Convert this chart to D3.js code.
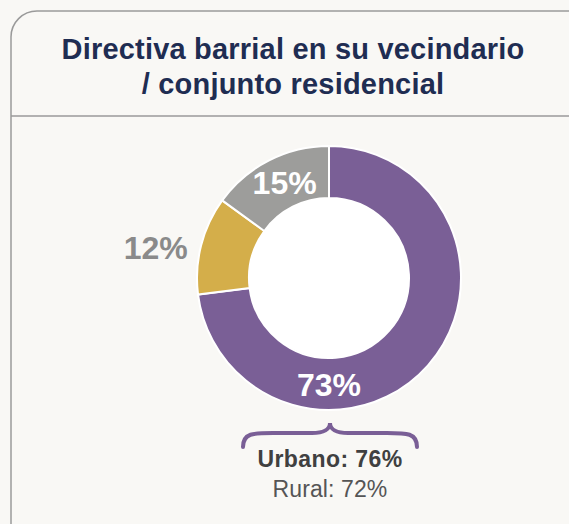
<!DOCTYPE html>
<html>
<head>
<meta charset="utf-8">
<script src="https://cdn.jsdelivr.net/npm/d3@7"></script>
<style>
  html, body { margin: 0; padding: 0; background: #f9f8f5; }
  svg { display: block; }
  text { font-family: "Liberation Sans", Arial, sans-serif; }
</style>
</head>
<body>
<div id="chart"></div>
<script>
"use strict";

// chart data
var titleLines = ["Directiva barrial en su vecindario", "/ conjunto residencial"];
var categories = ["Sí", "No", "No sabe"];
var values = [73, 12, 15];
var colors = ["#7a5f96", "#d4ae4a", "#9d9d9b"];
var breakdownLabels = ["Urbano: 76%", "Rural: 72%"];

var width = 569, height = 524;
var svg = d3.select("#chart").append("svg")
    .attr("width", width)
    .attr("height", height);

// card frame
svg.append("rect")
    .attr("x", 11).attr("y", 11)
    .attr("width", 600).attr("height", 540)
    .attr("rx", 26).attr("ry", 26)
    .attr("fill", "#f9f8f5")
    .attr("stroke", "#9a9a9a")
    .attr("stroke-width", 1.5);

svg.append("line")
    .attr("x1", 11).attr("x2", width)
    .attr("y1", 116).attr("y2", 116)
    .attr("stroke", "#9a9a9a")
    .attr("stroke-width", 1.5);

svg.append("g")
    .selectAll("text")
    .data(titleLines)
    .enter().append("text")
    .attr("x", 293)
    .attr("y", (d, i) => 59 + i * 35)
    .attr("text-anchor", "middle")
    .attr("font-size", 29)
    .attr("font-weight", "bold")
    .attr("letter-spacing", 0.2)
    .attr("fill", "#1f2d52")
    .text(d => d);

// donut
var cx = 329, cy = 278;
var outerR = 132, innerR = 80;

var pie = d3.pie().sort(null).value(d => d);
var arcs = pie(values);
var arc = d3.arc().innerRadius(innerR).outerRadius(outerR);

var donut = svg.append("g")
    .attr("transform", "translate(" + [cx, cy] + ")");

donut.append("circle")
    .attr("r", innerR)
    .attr("fill", "#ffffff");

donut.selectAll("path")
    .data(arcs)
    .enter().append("path")
    .attr("d", arc)
    .attr("fill", (d, i) => colors[i])
    .attr("stroke", "#ffffff")
    .attr("stroke-width", 2);

// slice labels: angle (degrees, clockwise from top) and radius for each
var labelPos = [
    { angle: 180, r: 106, inside: true },
    { angle: 280, r: 176, inside: false },
    { angle: 335, r: 105, inside: true }
];

donut.selectAll("text.slice")
    .data(arcs)
    .enter().append("text")
    .attr("class", "slice")
    .attr("transform", (d, i) => {
        var a = labelPos[i].angle * Math.PI / 180;
        var r = labelPos[i].r;
        return "translate(" + [Math.sin(a) * r, -Math.cos(a) * r] + ")";
    })
    .attr("text-anchor", "middle")
    .attr("dy", "0.36em")
    .attr("font-size", 32)
    .attr("font-weight", "bold")
    .attr("fill", (d, i) => labelPos[i].inside ? "#ffffff" : "#8a8a8a")
    .text(d => d.value + "%");

// curly brace under the donut
var braceL = 243, braceR = 417, braceTop = 423, braceMid = 433, braceBot = 447;
var midX = (braceL + braceR) / 2;
var brace = d3.path();
brace.moveTo(braceL, braceBot);
brace.bezierCurveTo(braceL, braceMid, braceL + 10, braceMid, braceL + 30, braceMid);
brace.lineTo(midX - 18, braceMid);
brace.bezierCurveTo(midX - 6, braceMid, midX, braceMid - 4, midX, braceTop);
brace.bezierCurveTo(midX, braceMid - 4, midX + 6, braceMid, midX + 18, braceMid);
brace.lineTo(braceR - 30, braceMid);
brace.bezierCurveTo(braceR - 10, braceMid, braceR, braceMid, braceR, braceBot);

svg.append("path")
    .attr("d", brace.toString())
    .attr("fill", "none")
    .attr("stroke", "#7a5f96")
    .attr("stroke-width", 4)
    .attr("stroke-linecap", "round");

svg.append("g")
    .selectAll("text")
    .data(breakdownLabels)
    .enter().append("text")
    .attr("x", midX)
    .attr("y", (d, i) => 467 + i * 30)
    .attr("text-anchor", "middle")
    .attr("font-size", 23)
    .attr("font-weight", (d, i) => i === 0 ? "bold" : "normal")
    .attr("letter-spacing", (d, i) => i === 0 ? 0.4 : 0.1)
    .attr("fill", (d, i) => i === 0 ? "#404040" : "#555555")
    .text(d => d);
</script>
</body>
</html>
